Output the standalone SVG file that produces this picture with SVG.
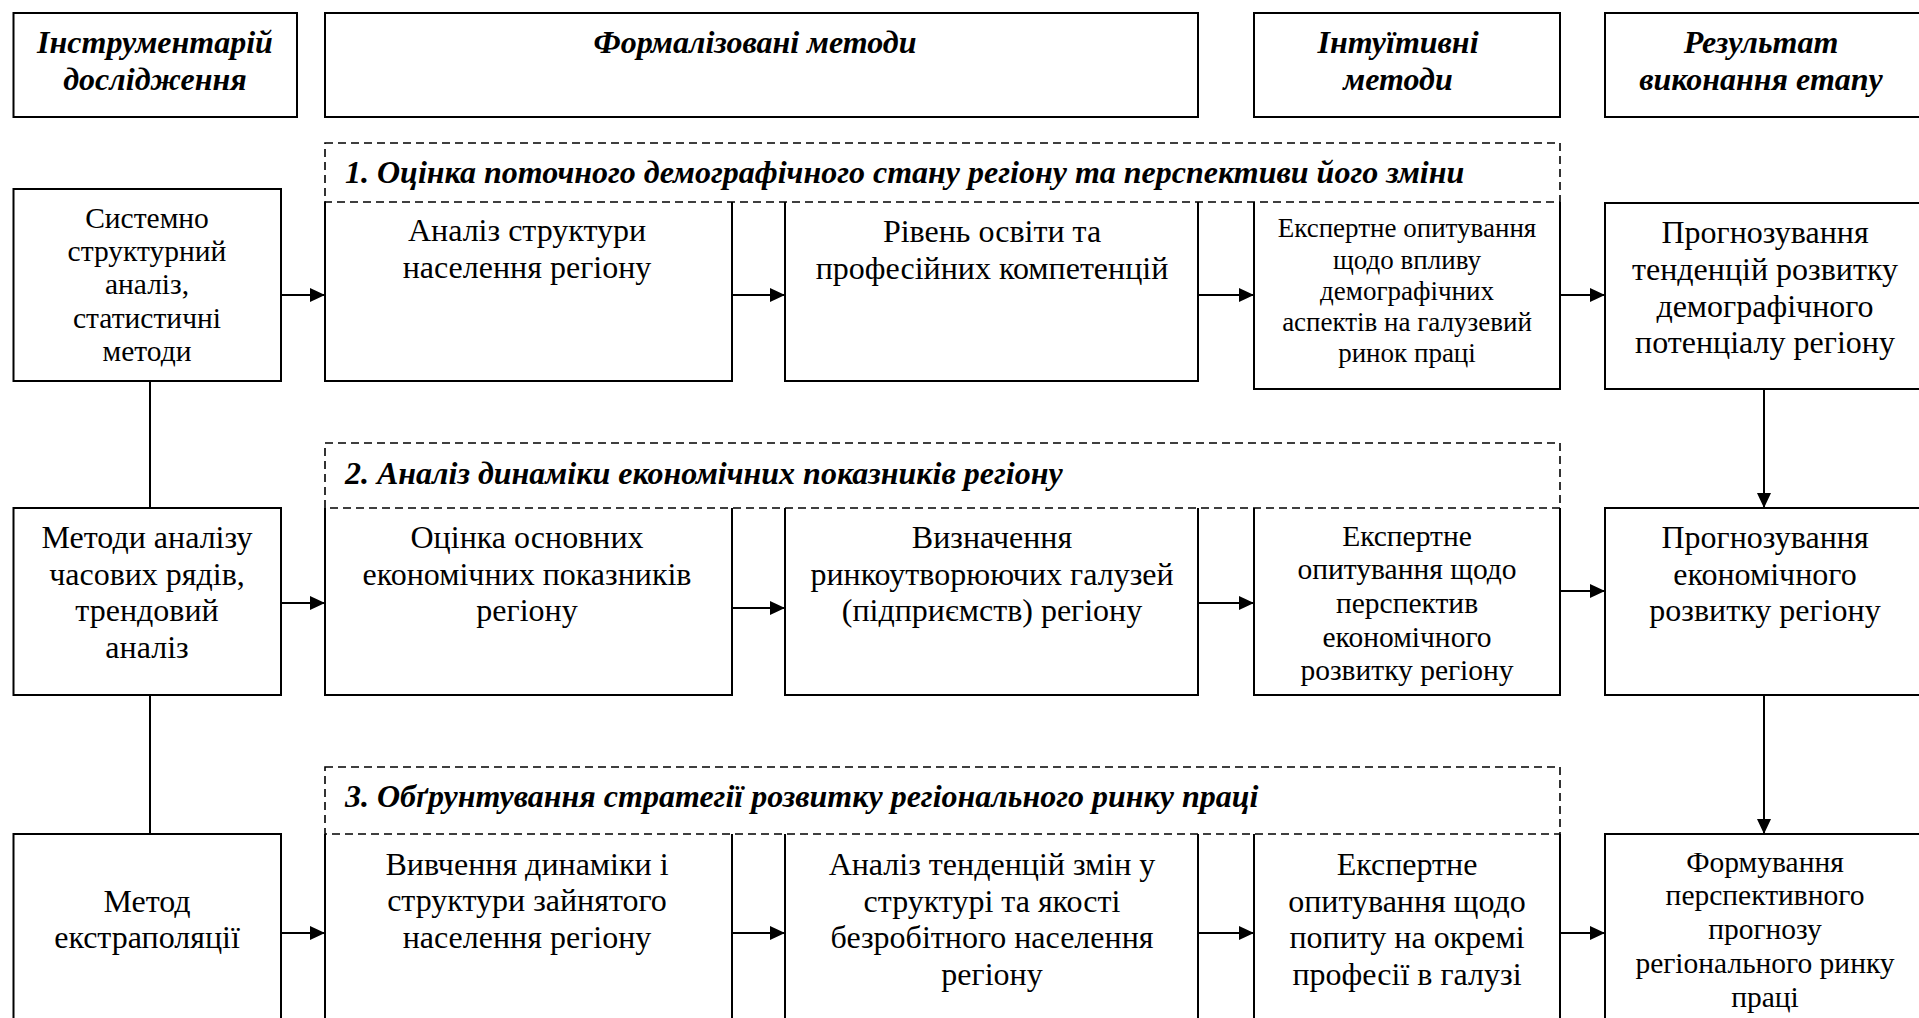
<svg xmlns="http://www.w3.org/2000/svg" width="1919" height="1018" viewBox="0 0 1919 1018">
<defs>
<style>
.box{fill:none;stroke:#000;stroke-width:2}
.dash{fill:none;stroke:#000;stroke-width:1.6;stroke-dasharray:8 5}
.conn{fill:none;stroke:#000;stroke-width:2}
text{font-family:"Liberation Serif","Times New Roman",serif;font-size:32px;text-anchor:middle;fill:#000}
.s{font-size:29.5px}
.xs{font-size:27px}
.h{font-weight:bold;font-style:italic}
.title{font-weight:bold;font-style:italic;text-anchor:start}
</style>
<marker id="arr" viewBox="0 0 15 14" markerWidth="15" markerHeight="14" refX="15" refY="7" orient="auto" markerUnits="userSpaceOnUse">
<path d="M0,0 L15,7 L0,14 z" fill="#000"/>
</marker>
</defs>
<rect width="1919" height="1018" fill="#fff"/>

<g id="header-instr"><rect class="box" x="13.5" y="13" width="283.5" height="104"/><text class="h" x="155" y="53">Інструментарій</text><text class="h" x="155" y="90">дослідження</text></g>
<g id="header-formal"><rect class="box" x="325" y="13" width="873" height="104"/><text class="h" x="755" y="53">Формалізовані методи</text></g>
<g id="header-intuit"><rect class="box" x="1254" y="13" width="306" height="104"/><text class="h" x="1398" y="53">Інтуїтивні</text><text class="h" x="1398" y="90">методи</text></g>
<g id="header-result"><rect class="box" x="1605" y="13" width="320" height="104"/><text class="h" x="1761" y="53">Результат</text><text class="h" x="1761" y="90">виконання етапу</text></g>

<g id="stage1"><rect class="dash" x="325" y="143" width="1235" height="59"/><text class="title" x="345" y="183">1. Оцінка поточного демографічного стану регіону та перспективи його зміни</text></g>
<g id="stage2"><rect class="dash" x="325" y="443" width="1235" height="65"/><text class="title" x="345" y="484">2. Аналіз динаміки економічних показників регіону</text></g>
<g id="stage3"><rect class="dash" x="325" y="767" width="1235" height="67"/><text class="title" x="345" y="807">3. Обґрунтування стратегії розвитку регіонального ринку праці</text></g>

<g id="tool1"><rect class="box" x="13.5" y="189" width="267.5" height="192"/>
<text class="s" x="147" y="228">Системно</text><text class="s" x="147" y="261">структурний</text><text class="s" x="147" y="294">аналіз,</text><text class="s" x="147" y="328">статистичні</text><text class="s" x="147" y="361">методи</text></g>
<g id="a1"><path class="box" d="M325,202 V381 H732 V202"/><text x="527" y="241">Аналіз структури</text><text x="527" y="278">населення регіону</text></g>
<g id="a2"><path class="box" d="M785,202 V381 H1198 V202"/><text x="992" y="242">Рівень освіти та</text><text x="992" y="279">професійних компетенцій</text></g>
<g id="a3"><path class="box" d="M1254,202 V389 H1560 V202"/>
<text class="xs" x="1407" y="237">Експертне опитування</text><text class="xs" x="1407" y="269">щодо впливу</text><text class="xs" x="1407" y="300">демографічних</text><text class="xs" x="1407" y="331">аспектів на галузевий</text><text class="xs" x="1407" y="362">ринок праці</text></g>
<g id="r1"><rect class="box" x="1605" y="203" width="320" height="186"/>
<text x="1765" y="243">Прогнозування</text><text x="1765" y="280">тенденцій розвитку</text><text x="1765" y="317">демографічного</text><text x="1765" y="353">потенціалу регіону</text></g>

<g id="tool2"><rect class="box" x="13.5" y="508" width="267.5" height="187"/>
<text x="147" y="548">Методи аналізу</text><text x="147" y="585">часових рядів,</text><text x="147" y="621">трендовий</text><text x="147" y="658">аналіз</text></g>
<g id="b1"><path class="box" d="M325,508 V695 H732 V508"/><text x="527" y="548">Оцінка основних</text><text x="527" y="585">економічних показників</text><text x="527" y="621">регіону</text></g>
<g id="b2"><path class="box" d="M785,508 V695 H1198 V508"/><text x="992" y="548">Визначення</text><text x="992" y="585">ринкоутворюючих галузей</text><text x="992" y="621">(підприємств) регіону</text></g>
<g id="b3"><path class="box" d="M1254,508 V695 H1560 V508"/>
<text class="s" x="1407" y="546">Експертне</text><text class="s" x="1407" y="579">опитування щодо</text><text class="s" x="1407" y="613">перспектив</text><text class="s" x="1407" y="647">економічного</text><text class="s" x="1407" y="680">розвитку регіону</text></g>
<g id="r2"><rect class="box" x="1605" y="508" width="320" height="187"/>
<text x="1765" y="548">Прогнозування</text><text x="1765" y="585">економічного</text><text x="1765" y="621">розвитку регіону</text></g>

<g id="tool3"><rect class="box" x="13.5" y="834" width="267.5" height="200"/>
<text x="147" y="912">Метод</text><text x="147" y="948">екстраполяції</text></g>
<g id="c1"><path class="box" d="M325,834 V1034 H732 V834"/><text x="527" y="875">Вивчення динаміки і</text><text x="527" y="911">структури зайнятого</text><text x="527" y="948">населення регіону</text></g>
<g id="c2"><path class="box" d="M785,834 V1034 H1198 V834"/><text x="992" y="875">Аналіз тенденцій змін у</text><text x="992" y="912">структурі та якості</text><text x="992" y="948">безробітного населення</text><text x="992" y="985">регіону</text></g>
<g id="c3"><path class="box" d="M1254,834 V1034 H1560 V834"/><text x="1407" y="875">Експертне</text><text x="1407" y="912">опитування щодо</text><text x="1407" y="948">попиту на окремі</text><text x="1407" y="985">професії в галузі</text></g>
<g id="r3"><rect class="box" x="1605" y="834" width="320" height="200"/>
<text class="s" x="1765" y="872">Формування</text><text class="s" x="1765" y="905">перспективного</text><text class="s" x="1765" y="939">прогнозу</text><text class="s" x="1765" y="973">регіонального ринку</text><text class="s" x="1765" y="1007">праці</text></g>

<g id="connectors">
<path class="conn" d="M281,295 H325" marker-end="url(#arr)"/>
<path class="conn" d="M732,295 H785" marker-end="url(#arr)"/>
<path class="conn" d="M1198,295 H1254" marker-end="url(#arr)"/>
<path class="conn" d="M1560,295 H1605" marker-end="url(#arr)"/>
<path class="conn" d="M281,603 H325" marker-end="url(#arr)"/>
<path class="conn" d="M732,608 H785" marker-end="url(#arr)"/>
<path class="conn" d="M1198,603 H1254" marker-end="url(#arr)"/>
<path class="conn" d="M1560,591 H1605" marker-end="url(#arr)"/>
<path class="conn" d="M281,933 H325" marker-end="url(#arr)"/>
<path class="conn" d="M732,933 H785" marker-end="url(#arr)"/>
<path class="conn" d="M1198,933 H1254" marker-end="url(#arr)"/>
<path class="conn" d="M1560,933 H1605" marker-end="url(#arr)"/>
<path class="conn" d="M150,381 V508"/>
<path class="conn" d="M150,695 V834"/>
<path class="conn" d="M1764,389 V508" marker-end="url(#arr)"/>
<path class="conn" d="M1764,695 V834" marker-end="url(#arr)"/>
</g>
</svg>
